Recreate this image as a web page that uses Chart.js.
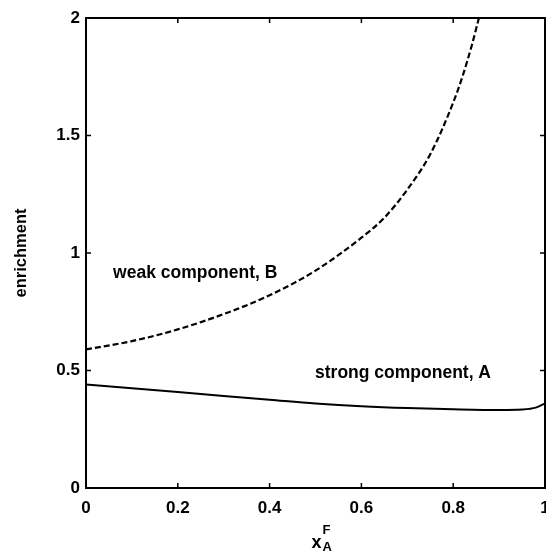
<!DOCTYPE html>
<html lang="en">
<head>
  <meta charset="UTF-8">
  <title>enrichment</title>
  <style>
    body {
      margin: 0;
      background-color: #ffffff;
    }
    .wrap {
      width: 546px;
      height: 552px;
    }
  </style>
</head>
<body>
  <div class="wrap">
    <canvas id="chartCanvas" width="546" height="552"></canvas>
  </div>

  <script src="https://cdn.jsdelivr.net/npm/chart.js"></script>
  <script>
    // values
    const xA = [0, 0.1, 0.2, 0.3, 0.4, 0.5, 0.6, 0.7, 0.8, 0.9, 0.95, 0.98, 1.0];
    const yA = [0.44, 0.424, 0.408, 0.392, 0.376, 0.36, 0.348, 0.34, 0.335, 0.332, 0.334, 0.342, 0.36];
    const xB = [0, 0.1, 0.2, 0.3, 0.4, 0.5, 0.6, 0.65, 0.7, 0.75, 0.8, 0.82, 0.84, 0.856];
    const yB = [0.59, 0.625, 0.675, 0.74, 0.82, 0.925, 1.065, 1.15, 1.27, 1.42, 1.64, 1.75, 1.88, 2.0];
    const xTicks = [0, 0.2, 0.4, 0.6, 0.8, 1];
    const yTicks = [0, 0.5, 1, 1.5, 2];
    const notes = [
      { text: 'weak component, B', x: 0.059, y: 0.915 },
      { text: 'strong component, A', x: 0.499, y: 0.49 }
    ];

    const FONT = '"Liberation Sans", Arial, sans-serif';

    const boxPlugin = {
      id: 'box',
      afterDraw(chart) {
        const c = chart.ctx;
        const a = chart.chartArea;
        const sx = chart.scales.x;
        const sy = chart.scales.y;
        c.save();
        c.strokeStyle = '#000';
        c.lineWidth = 2;
        c.strokeRect(a.left, a.top, a.right - a.left, a.bottom - a.top);
        c.lineWidth = 1.5;
        c.beginPath();
        xTicks.forEach(v => {
          const px = sx.getPixelForValue(v);
          c.moveTo(px, a.bottom); c.lineTo(px, a.bottom - 5);
          c.moveTo(px, a.top); c.lineTo(px, a.top + 5);
        });
        yTicks.forEach(v => {
          const py = sy.getPixelForValue(v);
          c.moveTo(a.left, py); c.lineTo(a.left + 5, py);
          c.moveTo(a.right, py); c.lineTo(a.right - 5, py);
        });
        c.stroke();

        c.fillStyle = '#000';
        c.font = 'bold 17.5px ' + FONT;
        c.textAlign = 'left';
        c.textBaseline = 'middle';
        notes.forEach(n => {
          c.fillText(n.text, sx.getPixelForValue(n.x), sy.getPixelForValue(n.y));
        });

        // x axis title: x with superscript F and subscript A
        const cx = (a.left + a.right) / 2;
        c.font = 'bold 18px ' + FONT;
        c.textAlign = 'right';
        c.fillText('x', cx + 6, 543);
        c.font = 'bold 13px ' + FONT;
        c.textAlign = 'left';
        c.fillText('F', cx + 7, 530);
        c.fillText('A', cx + 7, 547);
        c.restore();
      }
    };

    const ctx = document.getElementById('chartCanvas').getContext('2d');
    new Chart(ctx, {
      type: 'scatter',
      data: {
        datasets: [{
          label: 'strong component, A',
          data: xA.map((x, i) => ({ x, y: yA[i] })),
          showLine: true,
          borderColor: '#000',
          borderWidth: 2,
          pointRadius: 0,
          cubicInterpolationMode: 'monotone'
        }, {
          label: 'weak component, B',
          data: xB.map((x, i) => ({ x, y: yB[i] })),
          showLine: true,
          borderColor: '#000',
          borderWidth: 2.2,
          borderDash: [6, 3],
          pointRadius: 0,
          cubicInterpolationMode: 'monotone'
        }]
      },
      options: {
        responsive: false,
        animation: false,
        layout: { padding: { top: 18, right: 1, bottom: 0, left: 0 } },
        plugins: {
          legend: { display: false },
          tooltip: { enabled: false }
        },
        scales: {
          x: {
            type: 'linear',
            min: 0,
            max: 1,
            grid: { display: false, drawTicks: false },
            border: { display: false },
            ticks: {
              stepSize: 0.2,
              padding: 10,
              color: '#000',
              font: { family: FONT, size: 17, weight: 'bold' },
              callback: v => String(Math.round(v * 10) / 10)
            },
            afterFit(scale) {
              scale.height = 64;
              scale.paddingRight = 0;
            }
          },
          y: {
            type: 'linear',
            min: 0,
            max: 2,
            grid: { display: false, drawTicks: false },
            border: { display: false },
            title: {
              display: true,
              text: 'enrichment',
              color: '#000',
              padding: { top: 12, bottom: 0 },
              font: { family: FONT, size: 16.5, weight: 'bold' }
            },
            ticks: {
              stepSize: 0.5,
              padding: 6,
              color: '#000',
              font: { family: FONT, size: 17, weight: 'bold' },
              callback: v => String(Math.round(v * 10) / 10)
            },
            afterFit(scale) {
              scale.width = 86;
            }
          }
        }
      },
      plugins: [boxPlugin]
    });
  </script>
</body>
</html>
